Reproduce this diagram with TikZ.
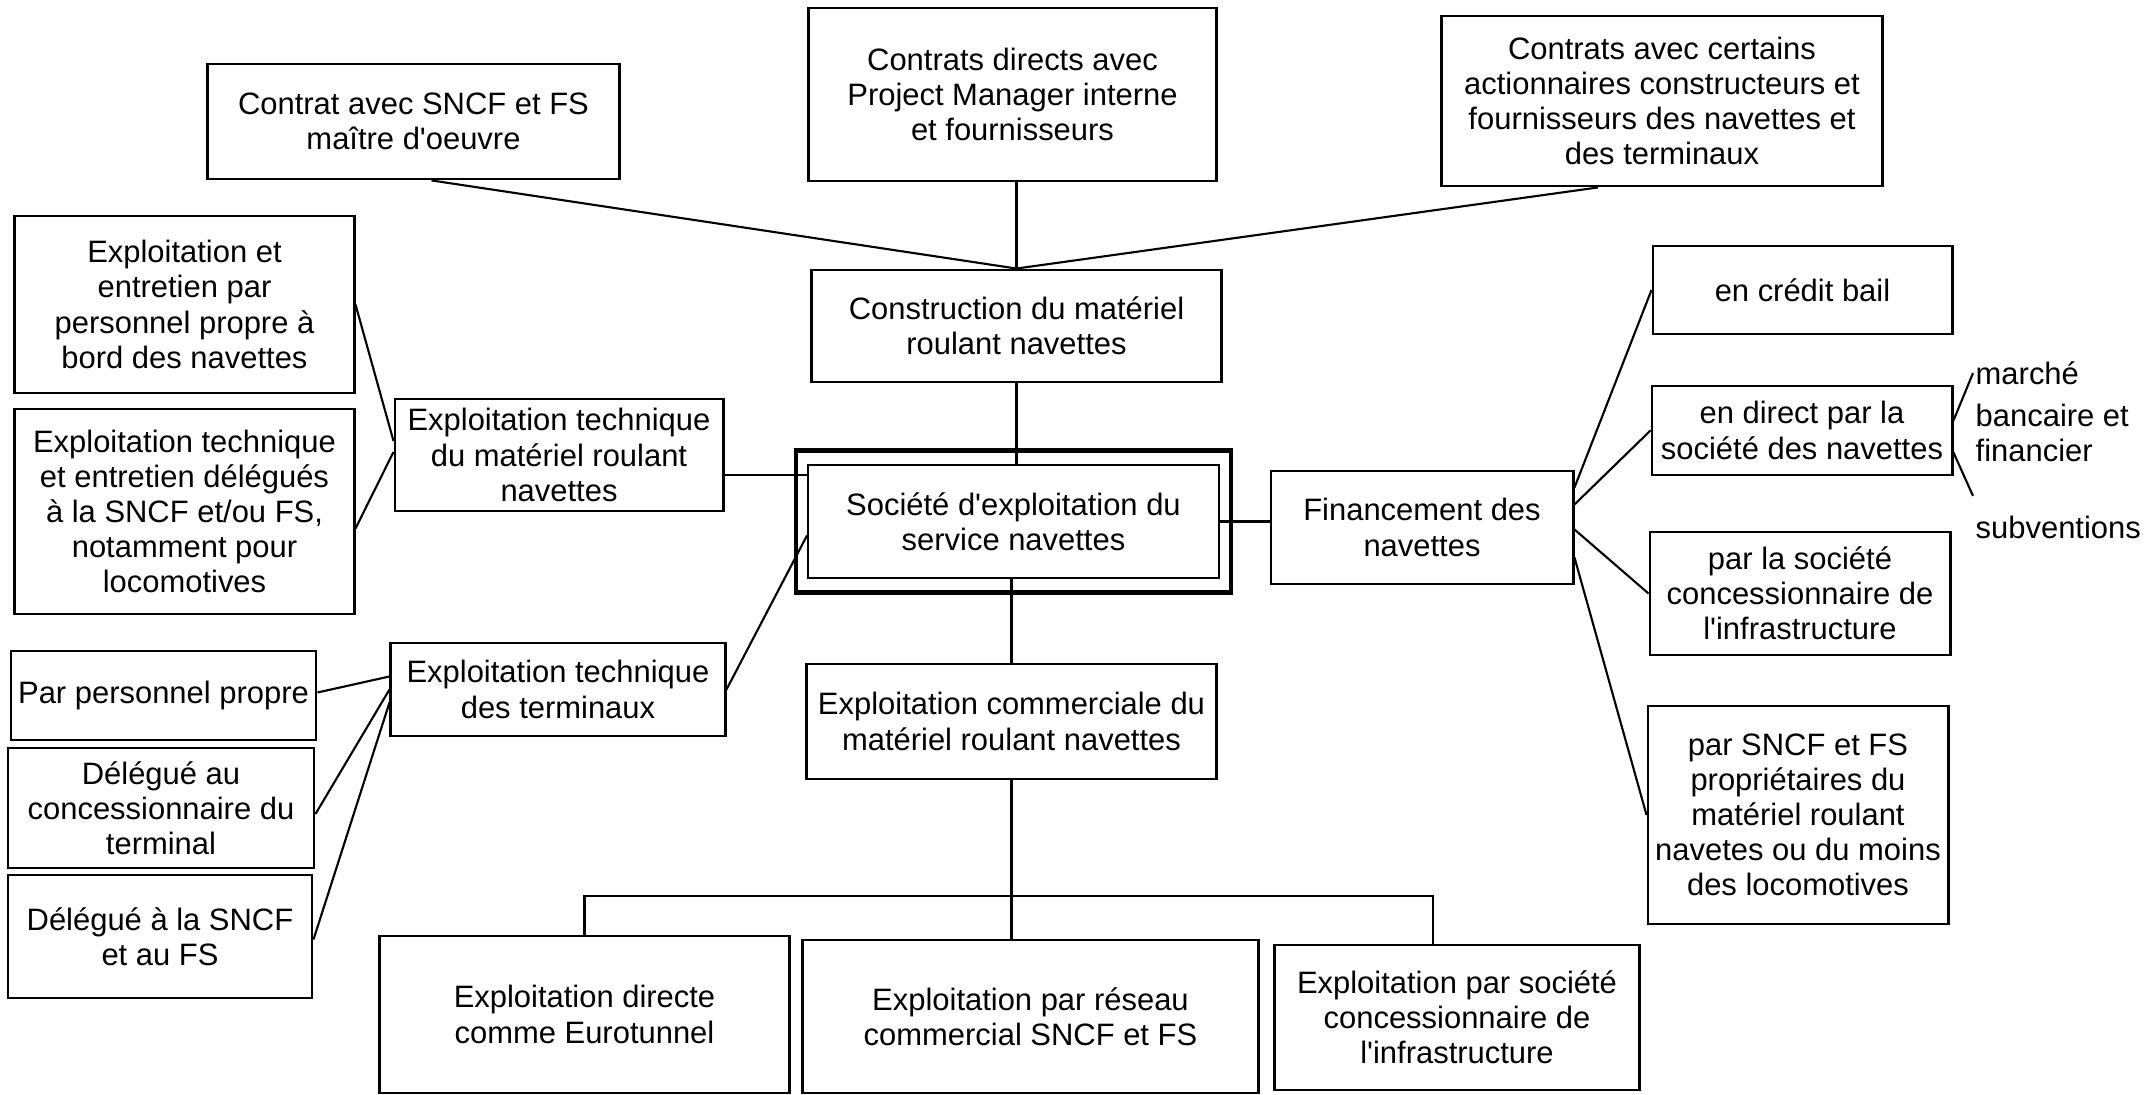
\documentclass[tikz,border=0pt]{standalone}
\usepackage{fontspec}
\setmainfont{Liberation Sans}[Ligatures=TeXOff]
\usetikzlibrary{positioning,calc,fit}
\tikzset{
  box/.style={draw, line width=0.8pt, align=center, inner sep=1pt,
    font=\fontsize{8.8}{10}\selectfont},
  frame/.style={draw, line width=1.4pt, inner sep=0pt},
  free/.style={align=left, inner sep=0pt, font=\fontsize{8.8}{10}\selectfont},
  link/.style={line width=0.6pt}
}

\begin{document}
\begin{tikzpicture}[x=0.01cm,y=-0.01cm]
           \useasboundingbox (0,0) rectangle (2156,1095);
           \node[box,minimum width=4.11cm,minimum height=1.15cm] (ctr_sncf) at (413.5,121.5) {Contrat avec SNCF et FS\\maître d'oeuvre};
           \node[box,minimum width=4.07cm,minimum height=1.73cm] (ctr_direct) at (1012.5,94.5) {Contrats directs avec\\Project Manager interne\\et fournisseurs};
           \node[box,minimum width=4.40cm,minimum height=1.70cm] (ctr_action) at (1662,101) {Contrats avec certains\\actionnaires constructeurs et\\fournisseurs des navettes et\\des terminaux};
           \node[box,minimum width=4.09cm,minimum height=1.12cm] (constr) at (1016.5,326) {Construction du matériel\\roulant navettes};

           \node[box,minimum width=3.39cm,minimum height=1.77cm] (bord) at (184.5,304.5) {Exploitation et\\entretien par\\personnel propre à\\bord des navettes};
           \node[box,minimum width=3.39cm,minimum height=2.05cm] (deleg) at (184.5,511.5) {Exploitation technique\\et entretien délégués\\à la SNCF et/ou FS,\\notamment pour\\locomotives};
           \node[box,minimum width=3.28cm,minimum height=1.12cm] (tech_mat) at (559,455) {Exploitation technique\\du matériel roulant\\navettes};

           \node[box,line width=0.5pt,minimum width=4.11cm,minimum height=1.13cm] (societe) at (1013.5,521.5) {Société d'exploitation du\\service navettes};
           \node[frame,fit=(societe),inner xsep=0.11cm,inner ysep=0.14cm] (societe_frame) {};

           \node[box,minimum width=3.02cm,minimum height=1.13cm] (finance) at (1422,527.5) {Financement des\\navettes};
           \node[box,minimum width=2.99cm,minimum height=0.88cm] (credit) at (1802.5,290) {en crédit bail};
           \node[box,minimum width=3.00cm,minimum height=0.89cm] (direct) at (1802,430.5) {en direct par la\\société des navettes};
           \node[box,minimum width=3.00cm,minimum height=1.23cm] (concess) at (1800,593.5) {par la société\\concessionnaire de\\l'infrastructure};
           \node[box,minimum width=3.00cm,minimum height=2.18cm] (proprio) at (1798,815) {par SNCF et FS\\propriétaires du\\matériel roulant\\navetes ou du moins\\des locomotives};
           \node[free,anchor=west] (marche) at (1975,412) {marché\\[2pt]bancaire et\\financier};
           \node[free,anchor=west] (subv) at (1975,527) {subventions};

           \node[box,minimum width=3.34cm,minimum height=0.93cm] (tech_term) at (558,689.5) {Exploitation technique\\des terminaux};
           \node[box,minimum width=3.05cm,minimum height=0.89cm] (pers) at (163.5,695.5) {Par personnel propre};
           \node[box,minimum width=3.06cm,minimum height=1.20cm] (conc_term) at (161,808) {Délégué au\\concessionnaire du\\terminal};
           \node[box,minimum width=3.04cm,minimum height=1.23cm] (sncf_fs) at (160,936.5) {Délégué à la SNCF\\et au FS};

           \node[box,minimum width=4.09cm,minimum height=1.15cm] (commerce) at (1011.5,721.5) {Exploitation commerciale du\\matériel roulant navettes};
           \node[box,minimum width=4.09cm,minimum height=1.57cm] (eurotunnel) at (584.5,1014.5) {Exploitation directe\\comme Eurotunnel};
           \node[box,minimum width=4.55cm,minimum height=1.53cm] (reseau) at (1030.5,1016.5) {Exploitation par réseau\\commercial SNCF et FS};
           \node[box,minimum width=3.65cm,minimum height=1.45cm] (infra) at (1457,1017.5) {Exploitation par société\\concessionnaire de\\l'infrastructure};

           \coordinate (mat_link) at ($(tech_mat.east)+(0,20)$);
           \coordinate (bus) at ($(commerce.south)+(0,116)$);
           \path[link]
            ($(ctr_sncf.south)+(18,0)$) edge (constr.north)
            (constr.north |- ctr_direct.south) edge (constr.north)
            ($(ctr_action.south)+(-64,0)$) edge (constr.north)
            (constr.south) edge (constr.south |- societe.north)
            (mat_link) edge (mat_link -| societe.west)
            ($(societe.west)+(0,14)$) edge (tech_term.east)
            (societe.east) edge (societe.east -| finance.west)
            (commerce.north |- societe.south) edge (commerce.north)
            (commerce.south) edge (commerce.south |- reseau.north)
            ($(finance.east)+(0,-40)$) edge (credit.west)
            ($(finance.east)+(0,-23)$) edge (direct.west)
            ($(finance.east)+(0,2)$) edge (concess.west)
            ($(finance.east)+(0,30)$) edge (proprio.west)
            ($(direct.east)+(0,-10)$) edge ($(marche.north west)+(-2,12)$)
            ($(direct.east)+(0,22)$) edge ($(subv.north west)+(-2,-19)$)
            (bord.east) edge ($(tech_mat.west)+(0,-14)$)
            ($(deleg.east)+(0,17)$) edge ($(tech_mat.west)+(0,-3)$)
            ($(pers.east)+(0,-3)$) edge ($(tech_term.west)+(0,-13)$)
            ($(conc_term.east)+(0,6)$) edge (tech_term.west)
            ($(sncf_fs.east)+(0,3)$) edge ($(tech_term.west)+(0,13)$)
            ;
           \draw[link] (eurotunnel.north) -- (eurotunnel.north |- bus)
                -- ($(infra.north |- bus)+(-24,0)$) -- ($(infra.north)+(-24,0)$);
\end{tikzpicture}
\end{document}
